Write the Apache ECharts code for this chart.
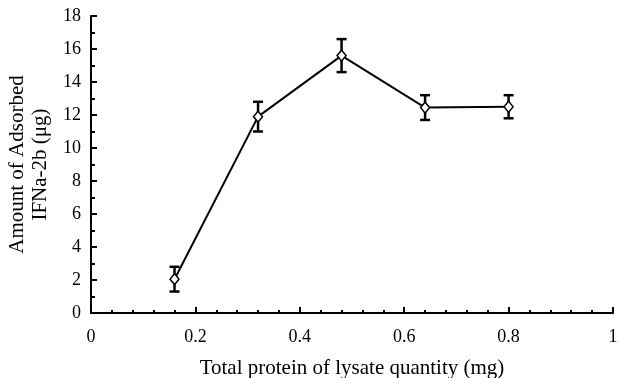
<!DOCTYPE html>
<html>
<head>
<meta charset="utf-8">
<script src="https://cdn.jsdelivr.net/npm/echarts@6/dist/echarts.min.js"></script>
<style>
html, body { margin: 0; padding: 0; background: #fff; }
#chart { width: 618px; height: 378px; }
</style>
</head>
<body>
<div id="chart"></div>
<script>
// data
var proteinMg = [0.16, 0.32, 0.48, 0.64, 0.8];
var adsorbed = [2.05, 11.9, 15.6, 12.45, 12.5];
var errBar = [0.75, 0.9, 1.0, 0.75, 0.7];

var font = 'Liberation Serif';

var lineData = [];
var errData = [];
for (var i = 0; i < proteinMg.length; i++) {
    lineData.push([proteinMg[i], adsorbed[i]]);
    errData.push([proteinMg[i], adsorbed[i] - errBar[i], adsorbed[i] + errBar[i]]);
}

var myChart = echarts.init(document.getElementById('chart'));

var option = {
    backgroundColor: '#fff',
    animation: false,
    grid: { left: 91, right: 5, top: 16, bottom: 65, outerBoundsMode: 'none', containLabel: false },
    xAxis: {
        type: 'value',
        min: 0,
        max: 1,
        interval: 0.2,
        name: 'Total protein of lysate quantity (mg)',
        nameLocation: 'middle',
        nameGap: 45,
        nameTextStyle: { fontFamily: font, fontSize: 21, color: '#000' },
        axisLine: { lineStyle: { color: '#000', width: 2 } },
        axisTick: { inside: true, length: 6, lineStyle: { color: '#000', width: 2 } },
        minorTick: { show: true, splitNumber: 5, length: 3, lineStyle: { color: '#000', width: 2 } },
        splitLine: { show: false },
        axisLabel: { fontFamily: font, fontSize: 18, color: '#000', margin: 15 }
    },
    yAxis: {
        type: 'value',
        min: 0,
        max: 18,
        interval: 2,
        name: 'Amount of Adsorbed\nIFNa-2b (μg)',
        nameLocation: 'middle',
        nameGap: 29,
        nameRotate: 90,
        nameTextStyle: { fontFamily: font, fontSize: 21, color: '#000', lineHeight: 23 },
        axisLine: { lineStyle: { color: '#000', width: 2 } },
        axisTick: { inside: true, length: 6, lineStyle: { color: '#000', width: 2 } },
        minorTick: { show: true, splitNumber: 2, length: 4, lineStyle: { color: '#000', width: 2 } },
        splitLine: { show: false },
        axisLabel: { fontFamily: font, fontSize: 18, color: '#000', margin: 10 }
    },
    series: [
        {
            type: 'custom',
            data: errData,
            z: 2,
            renderItem: function (params, api) {
                var x = api.value(0);
                var lo = api.coord([x, api.value(1)]);
                var hi = api.coord([x, api.value(2)]);
                var w = 5;
                var st = { stroke: '#000', lineWidth: 2.5 };
                return {
                    type: 'group',
                    children: [
                        { type: 'line', shape: { x1: lo[0], y1: lo[1], x2: hi[0], y2: hi[1] }, style: st },
                        { type: 'line', shape: { x1: lo[0] - w, y1: lo[1], x2: lo[0] + w, y2: lo[1] }, style: st },
                        { type: 'line', shape: { x1: hi[0] - w, y1: hi[1], x2: hi[0] + w, y2: hi[1] }, style: st }
                    ]
                };
            }
        },
        {
            type: 'line',
            data: lineData,
            z: 3,
            symbol: 'diamond',
            symbolSize: [9, 11],
            itemStyle: { color: '#fff', borderColor: '#000', borderWidth: 1.5 },
            lineStyle: { color: '#000', width: 2 }
        }
    ]
};

myChart.setOption(option);
</script>
</body>
</html>
